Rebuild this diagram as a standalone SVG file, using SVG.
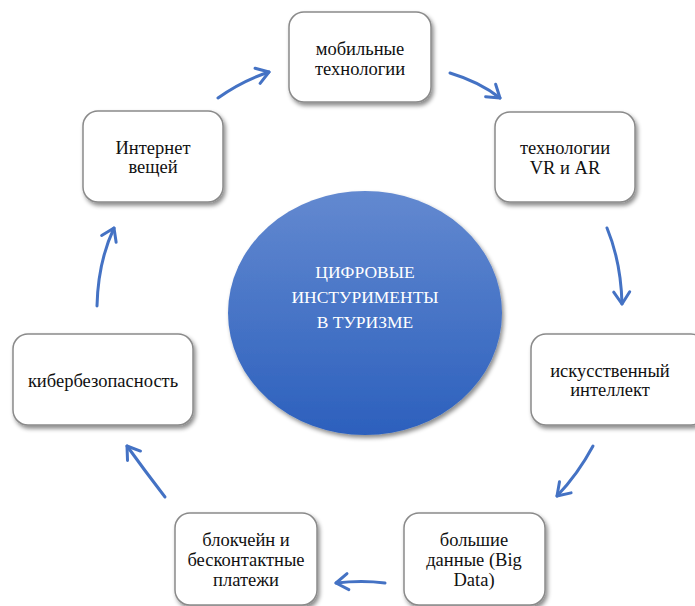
<svg xmlns="http://www.w3.org/2000/svg" width="695" height="606" viewBox="0 0 695 606">
<defs>
<filter id="sh" x="-10%" y="-10%" width="130%" height="130%">
<feDropShadow dx="2" dy="3" stdDeviation="2" flood-color="#000" flood-opacity="0.45"/>
</filter>
<linearGradient id="g" x1="0" y1="0" x2="0" y2="1">
<stop offset="0" stop-color="#6389D0"/>
<stop offset="1" stop-color="#2C60BD"/>
</linearGradient>
<marker id="ah" markerUnits="userSpaceOnUse" markerWidth="30" markerHeight="30" viewBox="-15 -15 30 30" refX="0" refY="0" orient="auto">
<path d="M-12,-8 L0,0 L-12,8" fill="none" stroke="#4472C4" stroke-width="3" stroke-linecap="round" stroke-linejoin="round"/>
</marker>
<style>
text{font-family:'Liberation Serif','DejaVu Serif',serif}
.box{fill:#fff;stroke:#8a8a8a;stroke-width:1.5;filter:url(#sh)}
.t{font-size:18.5px;fill:#111;text-anchor:middle}
.w{font-size:17.5px;fill:#fff;text-anchor:middle}
.c{fill:none;stroke:#4472C4;stroke-width:3;stroke-linecap:round;marker-end:url(#ah)}
</style>
</defs>
<rect width="695" height="606" fill="#fff"/>
<g id="center">
<ellipse cx="365" cy="313" rx="137" ry="122" fill="url(#g)" filter="url(#sh)"/>
<text class="w" x="365" y="278">ЦИФРОВЫЕ</text>
<text class="w" x="365" y="303">ИНСТУРИМЕНТЫ</text>
<text class="w" x="365" y="328">В ТУРИЗМЕ</text>
</g>
<g id="mobile">
<rect class="box" x="289" y="12" width="142" height="90" rx="15"/>
<text class="t" x="360" y="55">мобильные</text>
<text class="t" x="360" y="75">технологии</text>
</g>
<g id="vrar">
<rect class="box" x="495" y="112" width="140" height="90" rx="15"/>
<text class="t" x="565" y="154">технологии</text>
<text class="t" x="565" y="174">VR и AR</text>
</g>
<g id="internet">
<rect class="box" x="83" y="111" width="140" height="91" rx="15"/>
<text class="t" x="153" y="154">Интернет</text>
<text class="t" x="153" y="173">вещей</text>
</g>
<g id="ai">
<rect class="box" x="531" y="334" width="175" height="91" rx="15"/>
<text class="t" x="610" y="377">искусственный</text>
<text class="t" x="610" y="396">интеллект</text>
</g>
<g id="cyber">
<rect class="box" x="13" y="334" width="180" height="91" rx="15"/>
<text class="t" x="103" y="387">кибербезопасность</text>
</g>
<g id="blockchain">
<rect class="box" x="175" y="513" width="142" height="92" rx="15"/>
<text class="t" x="246" y="546">блокчейн и</text>
<text class="t" x="246" y="566">бесконтактные</text>
<text class="t" x="246" y="586">платежи</text>
</g>
<g id="bigdata">
<rect class="box" x="404" y="513" width="141" height="92" rx="15"/>
<text class="t" x="474" y="546">большие</text>
<text class="t" x="474" y="566">данные (Big</text>
<text class="t" x="474" y="586">Data)</text>
</g>
<g id="connectors">
<path class="c" d="M218,98 Q242,81 269,72"/>
<path class="c" d="M450,73 Q480,82 500,98"/>
<path class="c" d="M607,228 Q621,262 622,304"/>
<path class="c" d="M593,446 Q578,474 557,496"/>
<path class="c" d="M385,583 Q362,580 336,583"/>
<path class="c" d="M165,497 Q145,471 127,446"/>
<path class="c" d="M97,306 Q98,262 114,228"/>
</g>
</svg>
